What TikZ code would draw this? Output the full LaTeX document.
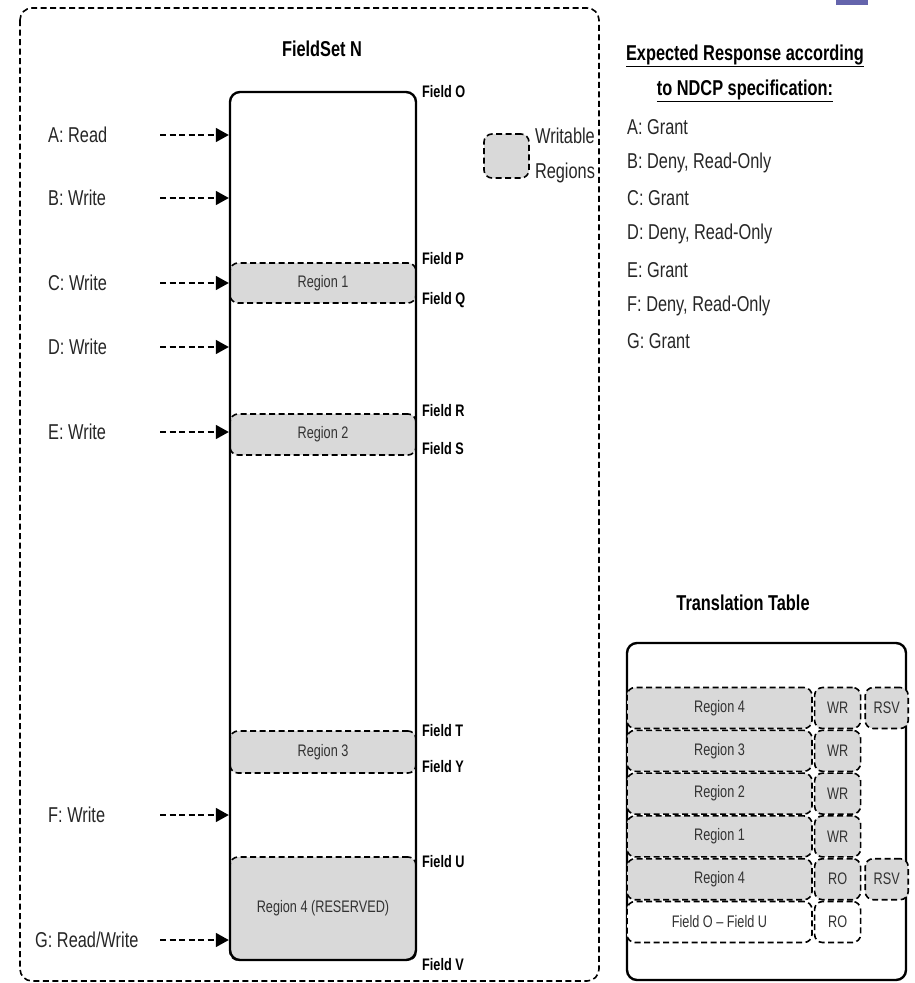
\documentclass[tikz,border=0pt]{standalone}
\usepackage{fontspec}
\setmainfont[FakeStretch=0.76]{Liberation Sans}
\usetikzlibrary{arrows.meta,positioning,calc}
\definecolor{regGray}{RGB}{217,217,217}
\definecolor{cornerPurple}{RGB}{100,100,172}
\newcommand{\bigfont}{\fontsize{21.5}{35}\selectfont}
\newcommand{\smallfont}{\fontsize{16.7}{18}\selectfont}

\begin{document}
\begin{tikzpicture}[x=1pt,y=-1pt,
        dashline/.style={line width=1.6pt, dash pattern=on 6pt off 3.5pt},
        region/.style={draw, dashline, fill=regGray, rounded corners=8pt, inner sep=0pt,
            font=\smallfont, text=black!80},
        fieldlbl/.style={anchor=west, font=\smallfont\bfseries, inner sep=0pt},
        reqlbl/.style={anchor=west, font=\bigfont, inner sep=0pt, text=black!85},
        reqarrow/.style={dashline, -{Triangle[length=13pt,width=14pt]}}]
            \useasboundingbox (0,0) rectangle (915,983);
            \fill[cornerPurple] (836,0) rectangle (868,5);

            % outer frame of the field set
            \draw[dashline, rounded corners=12pt] (20,8) rectangle (599,981);
            \node[font=\bigfont\bfseries] (fsTitle) at (322,49) {FieldSet N};

            % regions inside the field set
            \node[region, minimum width=186, minimum height=40] (reg1) at (323,283) {Region 1};
            \node[region, minimum width=186, minimum height=41] (reg2) at (323,434.5) {Region 2};
            \node[region, minimum width=186, minimum height=42] (reg3) at (323,752) {Region 3};
            \node[region, minimum width=186, minimum height=103] (reg4) at (323,908.5) {Region 4 (RESERVED)};
            \node[draw, line width=2.4pt, rounded corners=10pt, minimum width=186,
                minimum height=868] (box) at (323,526) {};

            \foreach \f/\yy in {O/92, P/259, Q/300, R/411, S/449, T/731, Y/767, U/862, V/965}
                \node[fieldlbl] (field\f) at (422,\yy) {Field \f};

            % requests
            \foreach \lab/\yy/\xx [count=\i] in {A: Read/135/48, B: Write/198/48, C: Write/283/48,
                    D: Write/347/48, E: Write/432/48, F: Write/815/48, {G: Read/Write}/940/35} {
                \node[reqlbl] (req\i) at (\xx,\yy) {\lab};
                \coordinate (tail\i) at (160,\yy);
                \draw[reqarrow] (tail\i) -- (tail\i -| box.west);
            }

            % legend
            \node[region, minimum width=45, minimum height=44] (legend) at (506.5,156) {};
            \node[font=\bigfont, align=center, inner sep=0pt, text=black!85] (legendTxt) at (565,155)
                {Writable\\Regions};

            % expected responses
            \node[font=\bigfont\bfseries, align=center, inner sep=0pt] (respHead) at (745,73)
                {\underline{Expected Response according}\\\underline{to NDCP specification:}};
            \foreach \txt [count=\i] in {{A: Grant}, {B: Deny, Read-Only}, {C: Grant},
                    {D: Deny, Read-Only}, {E: Grant}, {F: Deny, Read-Only}, {G: Grant}}
                \node[reqlbl] (resp\i) at ({627},{127+(\i-1)*35.7}) {\txt};

            % translation table
            \node[font=\bigfont\bfseries] (ttTitle) at (743,603) {Translation Table};
            \node[draw, line width=2.4pt, rounded corners=10pt, minimum width=279,
                minimum height=337] (ttable) at (766.5,811.5) {};
            \foreach \reg/\acc [count=\i] in {Region 4/WR, Region 3/WR, Region 2/WR,
                    Region 1/WR, Region 4/RO} {
                \node[region, minimum width=185, minimum height=41] (row\i) at ({719.5},{708+(\i-1)*42.8}) {\reg};
                \node[region, minimum width=46, minimum height=41, right=1pt of row\i] (acc\i) {\acc};
            }
            \node[region, fill=white, minimum width=185, minimum height=41] (row6) at (719.5,922) {Field O -- Field U};
            \node[region, fill=white, minimum width=46, minimum height=41, right=1pt of row6] (acc6) {RO};
            \node[region, minimum width=43, minimum height=41, right=3pt of acc1] (rsv1) {RSV};
            \node[region, minimum width=43, minimum height=41, right=3pt of acc5] (rsv5) {RSV};
        \end{tikzpicture}
\end{document}
